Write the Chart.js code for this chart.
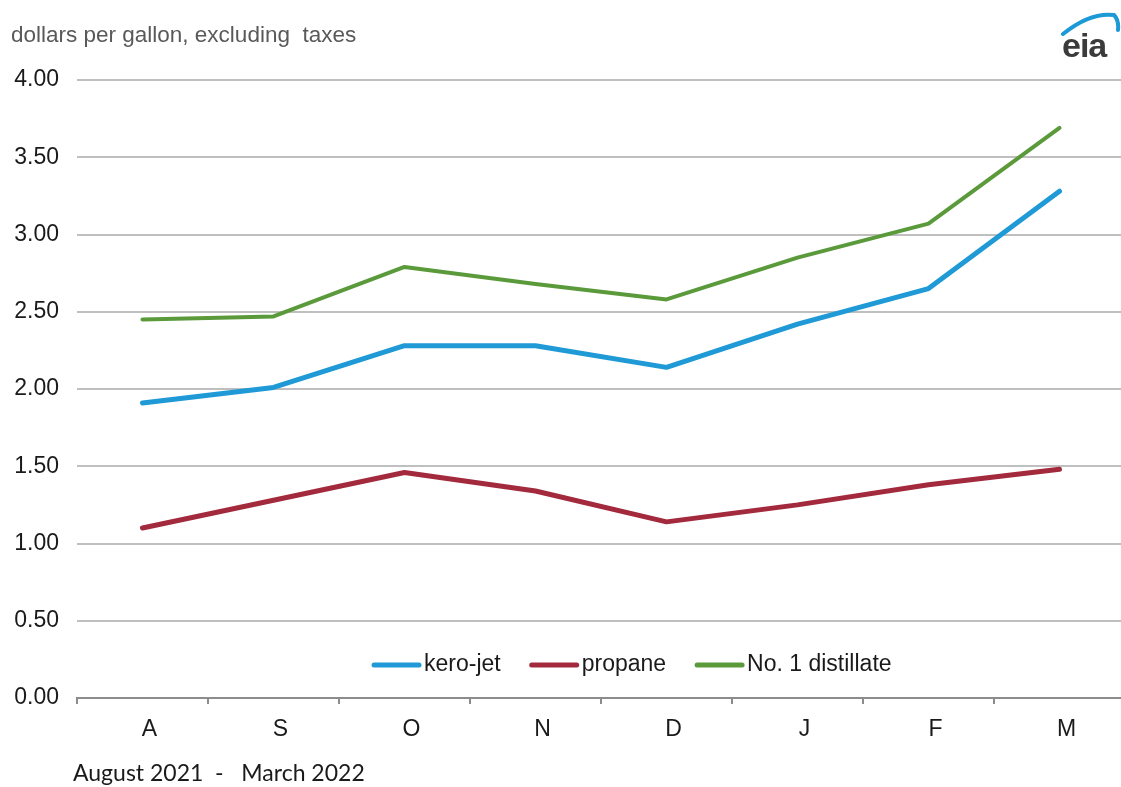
<!DOCTYPE html>
<html>
<head>
<meta charset="utf-8">
<script src="https://cdn.jsdelivr.net/npm/chart.js@4"></script>
<style>
  html, body { margin: 0; padding: 0; background: #fff; overflow: hidden; }
  #wrap { position: relative; width: 1121px; height: 787px; overflow: hidden; }
  #chart { position: absolute; left: 0; top: 0; }
  .ytitle { position: absolute; left: 11px; top: 22px; font: 22.5px "Liberation Sans", Arial, sans-serif; color: #595959; white-space: pre; }
  .period { position: absolute; left: 73px; top: 758px; font: 23px Lato, "Open Sans", sans-serif; color: #1a1a1a; white-space: pre; }
  .logo { position: absolute; left: 1056px; top: 8px; width: 65px; height: 55px; }
  .logo span { position: absolute; left: 6px; top: 18px; font: bold 34px "Liberation Sans", Arial, sans-serif; color: #3b3b3b; letter-spacing: -1px; }
</style>
</head>
<body>
<div id="wrap">
  <canvas id="chart" width="1126" height="787"></canvas>
  <div class="ytitle">dollars per gallon, excluding  taxes</div>
  <div class="period">August 2021  -   March 2022</div>
  <div class="logo">
    <svg width="65" height="30" style="position:absolute;left:0;top:0">
      <path d="M7 26 Q 34 4 58 7 Q 63 12 62 22" fill="none" stroke="#1c9ad6" stroke-width="4" stroke-linecap="round"/>
    </svg>
    <span>eia</span>
  </div>
</div>
<script>
// Data (August 2021 - March 2022)
const months = ["A", "S", "O", "N", "D", "J", "F", "M"];
const keroJet = [1.91, 2.01, 2.28, 2.28, 2.14, 2.42, 2.65, 3.28];
const propane = [1.10, 1.28, 1.46, 1.34, 1.14, 1.25, 1.38, 1.48];
const distillate = [2.45, 2.47, 2.79, 2.68, 2.58, 2.85, 3.07, 3.69];

const seriesNames = ["kero-jet", "propane", "No. 1 distillate"];
const seriesColors = ["#1f9ad6", "#a3293d", "#5a9a3b"];
const seriesWidths = [5, 5, 4];

const fontFamily = '"Liberation Sans", Arial, sans-serif';

// legend drawn inside the plot area
const insideLegend = {
  id: "insideLegend",
  afterDraw(chart) {
    const ctx = chart.ctx;
    const y = 665;
    let x = 374;
    ctx.save();
    ctx.font = "23px " + fontFamily;
    ctx.textBaseline = "middle";
    chart.data.datasets.forEach(function (ds) {
      ctx.strokeStyle = ds.borderColor;
      ctx.lineWidth = 5;
      ctx.lineCap = "round";
      ctx.beginPath();
      ctx.moveTo(x, y);
      ctx.lineTo(x + 45, y);
      ctx.stroke();
      x += 50;
      ctx.fillStyle = "#1a1a1a";
      ctx.fillText(ds.label, x, y);
      x += ctx.measureText(ds.label).width + 31;
    });
    ctx.restore();
  },
};

const ctx = document.getElementById("chart").getContext("2d");
const chart = new Chart(ctx, {
  type: "line",
  data: {
    labels: months,
    datasets: [keroJet, propane, distillate].map(function (values, i) {
      return {
        label: seriesNames[i],
        data: values,
        borderColor: seriesColors[i],
        backgroundColor: seriesColors[i],
        borderWidth: seriesWidths[i],
        borderCapStyle: "round",
        borderJoinStyle: "round",
        pointRadius: 0,
        tension: 0,
        order: i === 0 ? 1 : 0,
      };
    }),
  },
  options: {
    responsive: false,
    animation: false,
    layout: { padding: { top: 80, right: 1, bottom: 0, left: 0 } },
    plugins: {
      legend: { display: false },
      tooltip: { enabled: false },
    },
    scales: {
      x: {
        offset: true,
        grid: {
          offset: true,
          drawOnChartArea: false,
          drawTicks: true,
          tickLength: 6,
          color: "#8c8c8c",
          lineWidth: 2,
        },
        border: { display: true, color: "#8c8c8c", width: 2 },
        ticks: {
          color: "#1a1a1a",
          font: { family: fontFamily, size: 23 },
          padding: 12,
          labelOffset: 7,
          maxRotation: 0,
        },
        afterFit(scale) {
          scale.height = 89;
        },
      },
      y: {
        min: 0,
        max: 4,
        grid: {
          color: function (c) {
            return c.tick.value === 0 ? "rgba(0,0,0,0)" : "#bfbfbf";
          },
          lineWidth: 2,
          drawTicks: false,
        },
        border: { display: false },
        ticks: {
          stepSize: 0.5,
          color: "#1a1a1a",
          font: { family: fontFamily, size: 23 },
          padding: 18,
          callback: function (v) {
            return v.toFixed(2);
          },
        },
        afterFit(scale) {
          scale.width = 77;
        },
      },
    },
  },
  plugins: [insideLegend],
});
</script>
</body>
</html>
